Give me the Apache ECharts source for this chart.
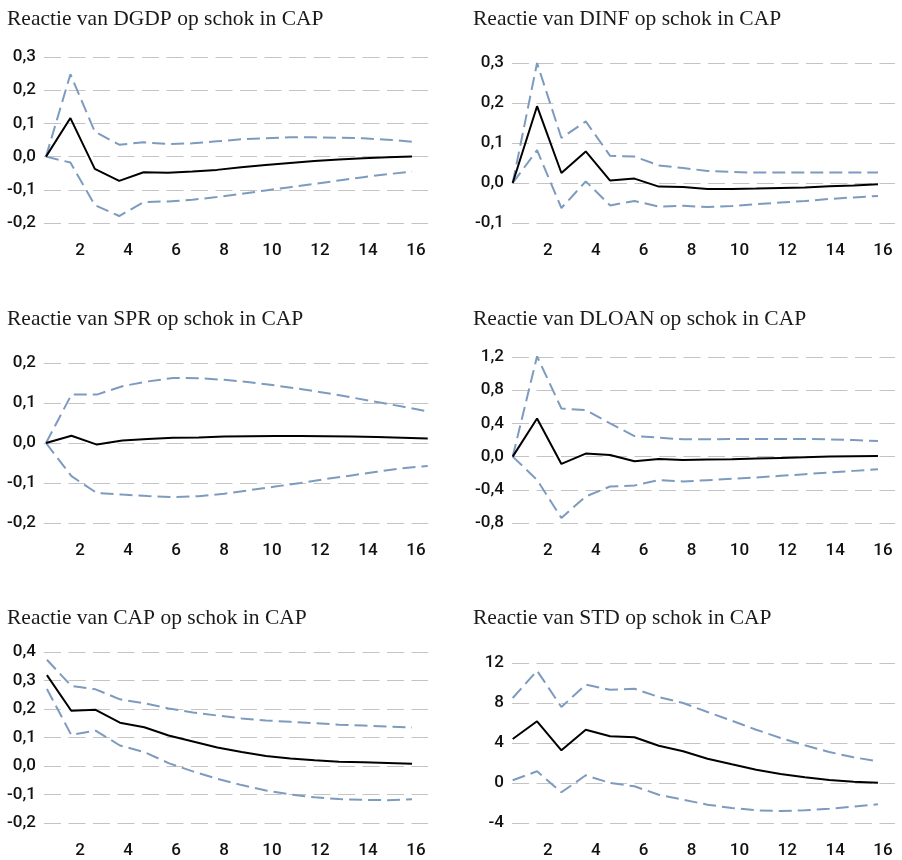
<!DOCTYPE html>
<html>
<head>
<meta charset="utf-8">
<script src="https://cdn.jsdelivr.net/npm/echarts@6/dist/echarts.min.js"></script>
<style>
html,body{margin:0;padding:0;background:#fff;}
#chart{width:902px;height:860px;}
</style>
</head>
<body>
<div id="chart"></div>
<script>
// ---- data ----
const periods = [1,2,3,4,5,6,7,8,9,10,11,12,13,14,15,16];
const xTickLabels = ['', '2', '', '4', '', '6', '', '8', '', '10', '', '12', '', '14', '', '16'];

const titles = [
  'Reactie van DGDP op schok in CAP',
  'Reactie van DINF op schok in CAP',
  'Reactie van SPR op schok in CAP',
  'Reactie van DLOAN op schok in CAP',
  'Reactie van CAP op schok in CAP',
  'Reactie van STD op schok in CAP'
];

const dgdpMid = [0, 0.116, -0.037, -0.073, -0.047, -0.049, -0.045, -0.040, -0.032, -0.025, -0.019, -0.013, -0.009, -0.005, -0.002, 0.0];
const dgdpUp  = [0, 0.248, 0.075, 0.036, 0.043, 0.038, 0.040, 0.046, 0.052, 0.055, 0.058, 0.058, 0.057, 0.055, 0.051, 0.045];
const dgdpLo  = [0, -0.018, -0.146, -0.179, -0.137, -0.135, -0.130, -0.122, -0.112, -0.102, -0.092, -0.082, -0.072, -0.062, -0.053, -0.045];

const dinfMid = [0, 0.192, 0.025, 0.079, 0.006, 0.011, -0.009, -0.010, -0.015, -0.015, -0.014, -0.0125, -0.011, -0.008, -0.006, -0.003];
const dinfUp  = [0, 0.300, 0.1125, 0.154, 0.068, 0.066, 0.044, 0.0375, 0.030, 0.0275, 0.026, 0.026, 0.026, 0.026, 0.026, 0.026];
const dinfLo  = [0, 0.082, -0.0625, 0.004, -0.056, -0.045, -0.059, -0.057, -0.060, -0.0575, -0.053, -0.049, -0.045, -0.040, -0.036, -0.0325];

const sprMid = [0, 0.018, -0.004, 0.006, 0.010, 0.013, 0.014, 0.016, 0.017, 0.0175, 0.0175, 0.017, 0.016, 0.015, 0.013, 0.011];
const sprUp  = [0, 0.121, 0.121, 0.142, 0.154, 0.1625, 0.162, 0.158, 0.152, 0.144, 0.135, 0.125, 0.114, 0.1025, 0.091, 0.079];
const sprLo  = [0, -0.083, -0.125, -0.129, -0.1325, -0.135, -0.133, -0.127, -0.118, -0.109, -0.100, -0.090, -0.081, -0.072, -0.063, -0.0575];

const dloanMid = [0, 0.46, -0.088, 0.036, 0.020, -0.056, -0.028, -0.040, -0.036, -0.032, -0.024, -0.016, -0.008, 0.0, 0.004, 0.008];
const dloanUp  = [0, 1.208, 0.58, 0.56, 0.40, 0.248, 0.228, 0.208, 0.208, 0.212, 0.212, 0.212, 0.212, 0.208, 0.200, 0.188];
const dloanLo  = [0, -0.28, -0.74, -0.48, -0.36, -0.348, -0.284, -0.300, -0.284, -0.268, -0.252, -0.232, -0.212, -0.192, -0.172, -0.152];

const capMid = [0.319, 0.194, 0.197, 0.152, 0.136, 0.107, 0.086, 0.065, 0.049, 0.035, 0.026, 0.020, 0.015, 0.013, 0.0105, 0.008];
const capUp  = [0.373, 0.281, 0.269, 0.234, 0.220, 0.202, 0.188, 0.177, 0.167, 0.160, 0.155, 0.150, 0.145, 0.142, 0.138, 0.135];
const capLo  = [0.270, 0.109, 0.124, 0.072, 0.049, 0.010, -0.019, -0.045, -0.067, -0.086, -0.100, -0.110, -0.116, -0.119, -0.120, -0.117];

const stdMid = [4.4, 6.17, 3.27, 5.33, 4.67, 4.57, 3.73, 3.17, 2.43, 1.87, 1.33, 0.90, 0.57, 0.30, 0.13, 0.03];
const stdUp  = [8.5, 11.23, 7.6, 9.83, 9.33, 9.43, 8.6, 8.0, 7.1, 6.23, 5.33, 4.5, 3.77, 3.1, 2.57, 2.17];
const stdLo  = [0.27, 1.17, -0.93, 0.77, 0.0, -0.33, -1.17, -1.67, -2.17, -2.5, -2.73, -2.8, -2.73, -2.57, -2.37, -2.13];

const yTicks1 = ['-0,2', '-0,1', '0,0', '0,1', '0,2', '0,3'];
const yTicks2 = ['-0,1', '0,0', '0,1', '0,2', '0,3'];
const yTicks3 = ['-0,2', '-0,1', '0,0', '0,1', '0,2'];
const yTicks4 = ['-0,8', '-0,4', '0,0', '0,4', '0,8', '1,2'];
const yTicks5 = ['-0,2', '-0,1', '0,0', '0,1', '0,2', '0,3', '0,4'];
const yTicks6 = ['-4', '0', '4', '8', '12'];

// ---- layout ----
const panels = [
  {title: titles[0], mid: dgdpMid, up: dgdpUp, lo: dgdpLo, ticks: yTicks1, ymin: -0.2, ymax: 0.3, step: 0.1,
   left: 44, right: 474, top: 57, bottom: 637, tx: 7, ty: 7, xmin: 0.918, xmax: 16.656},
  {title: titles[1], mid: dinfMid, up: dinfUp, lo: dinfLo, ticks: yTicks2, ymin: -0.1, ymax: 0.3, step: 0.1,
   left: 512, right: 7, top: 63, bottom: 637, tx: 473, ty: 7, xmin: 0.971, xmax: 16.70},
  {title: titles[2], mid: sprMid, up: sprUp, lo: sprLo, ticks: yTicks3, ymin: -0.2, ymax: 0.2, step: 0.1,
   left: 44, right: 474, top: 363, bottom: 337, tx: 7, ty: 307, xmin: 0.921, xmax: 16.01},
  {title: titles[3], mid: dloanMid, up: dloanUp, lo: dloanLo, ticks: yTicks4, ymin: -0.8, ymax: 1.2, step: 0.4,
   left: 512, right: 7, top: 357, bottom: 337, tx: 473, ty: 307, xmin: 0.971, xmax: 16.70},
  {title: titles[4], mid: capMid, up: capUp, lo: capLo, ticks: yTicks5, ymin: -0.2, ymax: 0.4, step: 0.1,
   left: 44, right: 474, top: 652, bottom: 37, tx: 7, ty: 606, xmin: 0.88, xmax: 16.656},
  {title: titles[5], mid: stdMid, up: stdUp, lo: stdLo, ticks: yTicks6, ymin: -4, ymax: 12, step: 4,
   left: 512, right: 7, top: 663, bottom: 37, tx: 473, ty: 606, xmin: 0.971, xmax: 16.70}
];

const BLUE = '#7d9bbf';
const GRID = '#c4c4c4';
const LABEL_FONT = 'Roboto';

const option = {
  animation: false,
  backgroundColor: '#fff',
  title: [], grid: [], xAxis: [], yAxis: [], series: []
};

panels.forEach((p, i) => {
  option.title.push({
    text: p.title, left: p.tx, top: p.ty + 1, padding: 0,
    textStyle: {fontFamily: 'Liberation Serif', fontSize: 21.5, fontWeight: 'normal', color: '#1a1a1a'}
  });
  option.grid.push({left: p.left, right: p.right, top: p.top, bottom: p.bottom, containLabel: false});
  // category axis: labels only
  option.xAxis.push({
    type: 'category', gridIndex: i, boundaryGap: true,
    data: periods.map(String),
    axisLine: {show: false}, axisTick: {show: false}, splitLine: {show: false},
    axisLabel: {
      interval: 0, margin: 19,
      formatter: (v, idx) => xTickLabels[idx],
      fontFamily: LABEL_FONT, fontSize: 17, fontWeight: 500, color: '#111'
    }
  });
  // value axis: data placement
  option.xAxis.push({
    type: 'value', gridIndex: i, min: p.xmin, max: p.xmax, show: false
  });
  option.yAxis.push({
    type: 'value', gridIndex: i, min: p.ymin, max: p.ymax, interval: p.step,
    axisLine: {show: false}, axisTick: {show: false},
    axisLabel: {
      margin: 8, fontFamily: LABEL_FONT, fontSize: 17, fontWeight: 500, color: '#111',
      formatter: (v) => p.ticks[Math.round((v - p.ymin) / p.step)]
    },
    splitLine: {show: true, lineStyle: {color: GRID, width: 1, type: [17, 7.5]}}
  });
  const mk = (arr, color, dashed) => ({
    type: 'line', xAxisIndex: 2 * i + 1, yAxisIndex: i,
    data: periods.map((x, k) => [x, arr[k]]),
    symbol: 'none', silent: true,
    lineStyle: {color: color, width: 2, type: dashed ? [13, 6] : 'solid'}
  });
  option.series.push(mk(p.up, BLUE, true));
  option.series.push(mk(p.lo, BLUE, true));
  option.series.push(mk(p.mid, '#000', false));
});

const chart = echarts.init(document.getElementById('chart'), null, {renderer: 'canvas'});
chart.setOption(option);
</script>
</body>
</html>
